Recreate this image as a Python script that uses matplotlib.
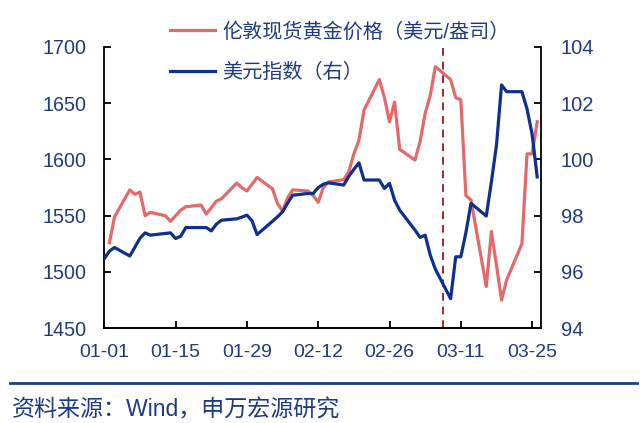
import matplotlib
matplotlib.use("Agg")
import matplotlib.pyplot as plt
import matplotlib.dates as mdates
from matplotlib.lines import Line2D
import pandas as pd

plt.rcParams['font.family'] = ['Liberation Sans', 'Noto Sans CJK SC', 'DejaVu Sans']

# London spot gold, USD/oz, business days 2020-01-02 .. 2020-03-26
gold_dates = pd.bdate_range('2020-01-02', '2020-03-26')
gold = [1526, 1549, 1573, 1569, 1571, 1550, 1553,
        1550, 1545, 1550, 1555, 1558,
        1559.5, 1551.5, 1557, 1563, 1565,
        1579, 1575, 1572, 1578, 1584,
        1574, 1561, 1554, 1566, 1573,
        1572, 1568, 1562, 1575, 1580,
        1582, 1589, 1605, 1617, 1644,
        1671, 1655, 1633.5, 1651, 1609,
        1599.5, 1616, 1641, 1657, 1682.5,
        1671, 1655, 1653, 1568, 1564,
        1487, 1536, 1506, 1475, 1493,
        1525, 1605, 1605, 1633.5]

# US dollar index (right axis), business days 2020-01-01 .. 2020-03-26
dxy_dates = pd.bdate_range('2020-01-01', '2020-03-26')
dxy = [96.48, 96.74, 96.87, 96.57, 96.88, 97.2, 97.39, 97.31,
       97.37, 97.39, 97.19, 97.27, 97.58,
       97.58, 97.58, 97.46, 97.7, 97.84,
       97.89, 97.95, 98.02, 97.82, 97.33,
       97.8, 97.96, 98.14, 98.45, 98.73,
       98.79, 98.79, 99.0, 99.12, 99.17,
       99.09, 99.4, 99.65, 99.88, 99.27,
       99.27, 98.97, 99.15, 98.55, 98.2,
       97.49, 97.23, 97.31, 96.6, 96.1,
       95.05, 96.54, 96.54, 97.4, 98.44,
       97.99, 99.2, 100.5, 102.65, 102.41,
       102.41, 101.8, 100.9, 99.38]

gold_label = '伦敦现货黄金价格（美元/盎司）'
dxy_label = '美元指数（右）'
source_text = '资料来源：Wind，申万宏源研究'
marker_date = pd.Timestamp('2020-03-07 12:00')

red = '#E36A6C'
navy = '#0E2F8E'
txt = '#1F3A7E'

fig = plt.figure(figsize=(6.4, 4.23), dpi=100)
ax = fig.add_axes([0.163, 0.224, 0.683, 0.665])
ax2 = ax.twinx()

ax.plot(gold_dates, gold, color=red, lw=2.3, label=gold_label)
ax2.plot(dxy_dates, dxy, color=navy, lw=2.3, label=dxy_label)
ax.axvline(marker_date, color='#A3262C', lw=1.4, dashes=(4, 3))

ax.set_ylim(1450, 1700)
ax.set_yticks(range(1450, 1701, 50))
ax2.set_ylim(94, 104)
ax2.set_yticks(range(94, 105, 2))
ax.set_xlim(pd.Timestamp('2020-01-01'), pd.Timestamp('2020-03-26 20:00'))
ax.set_xticks(pd.date_range('2020-01-01', periods=7, freq='14D'))
ax.xaxis.set_major_formatter(mdates.DateFormatter('%m-%d'))

for a in (ax, ax2):
    a.spines['top'].set_visible(False)
    for s in a.spines.values():
        s.set_linewidth(1.3)
ax.spines['right'].set_visible(False)
ax2.spines['left'].set_visible(False)

ax.tick_params(axis='y', direction='in', length=5, width=1.3, pad=13,
               labelsize=14.2, labelcolor=txt)
ax.tick_params(axis='x', direction='in', length=5, width=1.3, pad=11,
               labelsize=14, labelcolor=txt)
ax2.tick_params(axis='y', direction='in', length=5, width=1.3, pad=14,
                labelsize=14.5, labelcolor=txt)

handles = [Line2D([], [], color=red, lw=2.3), Line2D([], [], color=navy, lw=2.3)]
fig.legend(handles, [gold_label, dxy_label], loc='upper left',
           bbox_to_anchor=(0.266, 0.948), frameon=False, fontsize=14.5,
           labelcolor=txt, handlelength=2.24, handletextpad=0.35,
           labelspacing=1.05, borderpad=0, borderaxespad=0)

fig.add_artist(Line2D([0.016, 0.995], [1 - 383 / 423] * 2, color='#1F3C8C', lw=2))
fig.text(0.018, 1 - 410 / 423, source_text, va='center', ha='left',
         fontsize=16.6, color=txt)

fig.savefig('out.png', dpi=100)
